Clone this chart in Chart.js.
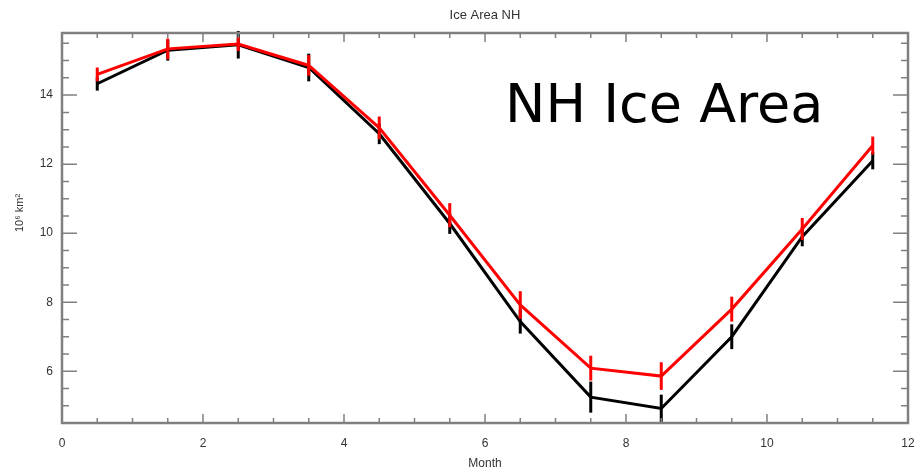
<!DOCTYPE html>
<html>
<head>
<meta charset="utf-8">
<script src="https://cdn.jsdelivr.net/npm/chart.js@4.4.1/dist/chart.umd.min.js"></script>
<style>
  body { margin: 0; background: #fff; }
  canvas { display: block; }
</style>
</head>
<body>
<canvas id="iceChart" width="918" height="474"></canvas>
<script>
const months = [0.5, 1.5, 2.5, 3.5, 4.5, 5.5, 6.5, 7.5, 8.5, 9.5, 10.5, 11.5];
const redArea = [14.6, 15.34, 15.48, 14.86, 13.05, 10.52, 7.92, 6.09, 5.86, 7.8, 10.12, 12.54];
const redErr = [0.2, 0.3, 0.2, 0.3, 0.33, 0.35, 0.4, 0.36, 0.4, 0.36, 0.32, 0.26];
const blackArea = [14.33, 15.3, 15.46, 14.8, 12.88, 10.28, 7.44, 5.25, 4.92, 7.0, 9.9, 12.1];
const blackErr = [0.2, 0.3, 0.4, 0.4, 0.3, 0.3, 0.35, 0.45, 0.4, 0.36, 0.28, 0.25];
const yTicks = [6, 8, 10, 12, 14];
const xTicks = [0, 2, 4, 6, 8, 10, 12];

const toPts = (ys) => months.map((m, i) => ({ x: m, y: ys[i] }));

const errorBars = {
  id: 'errorBars',
  afterDatasetDraw(chart, args) {
    const ds = chart.data.datasets[args.index];
    const errs = ds.errors;
    if (!errs) return;
    const x = chart.scales.x, y = chart.scales.y, c = chart.ctx;
    c.save();
    c.strokeStyle = ds.borderColor;
    c.lineWidth = 3;
    ds.data.forEach((p, i) => {
      const px = x.getPixelForValue(p.x);
      c.beginPath();
      c.moveTo(px, y.getPixelForValue(p.y - errs[i]));
      c.lineTo(px, y.getPixelForValue(p.y + errs[i]));
      c.stroke();
    });
    c.restore();
  }
};

const frame = {
  id: 'frame',
  afterDraw(chart) {
    const a = chart.chartArea, c = chart.ctx;
    const x = chart.scales.x, y = chart.scales.y;
    c.save();
    c.strokeStyle = '#808080';
    c.lineWidth = 1.5;
    // inward ticks
    for (let v = 0; v <= 12.001; v += 0.5) {
      const px = x.getPixelForValue(v);
      const len = (Math.abs(v % 2) < 0.01) ? 9 : 5;
      c.beginPath();
      c.moveTo(px, a.bottom); c.lineTo(px, a.bottom - len);
      c.moveTo(px, a.top); c.lineTo(px, a.top + len);
      c.stroke();
    }
    for (let v = 5; v <= 15.51; v += 0.5) {
      const py = y.getPixelForValue(v);
      const len = (Math.abs(v % 2) < 0.01) ? 15 : 7;
      c.beginPath();
      c.moveTo(a.left, py); c.lineTo(a.left + len, py);
      c.moveTo(a.right, py); c.lineTo(a.right - len, py);
      c.stroke();
    }
    c.lineWidth = 2.5;
    c.strokeRect(a.left, a.top, a.right - a.left, a.bottom - a.top);

    // texts
    c.fillStyle = '#333';
    c.textAlign = 'center';
    c.textBaseline = 'middle';
    c.font = '13px "Liberation Sans", Arial, sans-serif';
    c.fillText('Ice Area NH', 485, 15);
    c.font = '12px "Liberation Sans", Arial, sans-serif';
    c.fillText('Month', 485, 464);
    c.save();
    c.translate(20, 213);
    c.rotate(-Math.PI / 2);
    c.font = '11px "Liberation Sans", Arial, sans-serif';
    c.fillText('10\u2076 km\u00b2', 0, 0);
    c.restore();

    c.fillStyle = '#000';
    c.textAlign = 'left';
    c.textBaseline = 'alphabetic';
    c.font = '54px "Comic Sans MS", "DejaVu Sans", sans-serif';
    c.fillText('NH Ice Area', 505, 122);
    c.restore();
  }
};

new Chart(document.getElementById('iceChart'), {
  type: 'line',
  data: {
    datasets: [
      {
        label: 'Red',
        data: toPts(redArea),
        errors: redErr,
        borderColor: '#ff0000',
        borderWidth: 3,
        pointRadius: 0,
        tension: 0
      },
      {
        label: 'Black',
        data: toPts(blackArea),
        errors: blackErr,
        borderColor: '#000000',
        borderWidth: 3,
        pointRadius: 0,
        tension: 0
      }
    ]
  },
  options: {
    responsive: false,
    animation: false,
    layout: { padding: { top: 33, right: 10, left: 0, bottom: 0 } },
    plugins: {
      legend: { display: false },
      tooltip: { enabled: false }
    },
    scales: {
      x: {
        type: 'linear',
        min: 0,
        max: 12,
        afterBuildTicks: (s) => { s.ticks = xTicks.map(v => ({ value: v })); },
        afterFit: (s) => { s.height = 51; s.paddingLeft = 0; s.paddingRight = 0; },
        grid: { display: false, drawTicks: false },
        border: { display: false },
        ticks: {
          padding: 13,
          color: '#333',
          font: { size: 12, family: '"Liberation Sans", Arial, sans-serif' },
          maxRotation: 0
        }
      },
      y: {
        min: 4.5,
        max: 15.8,
        afterBuildTicks: (s) => { s.ticks = yTicks.map(v => ({ value: v })); },
        afterFit: (s) => { s.width = 62; s.paddingTop = 0; s.paddingBottom = 0; },
        grid: { display: false, drawTicks: false },
        border: { display: false },
        ticks: {
          padding: 9,
          color: '#333',
          font: { size: 12, family: '"Liberation Sans", Arial, sans-serif' }
        }
      }
    }
  },
  plugins: [errorBars, frame]
});
</script>
</body>
</html>
